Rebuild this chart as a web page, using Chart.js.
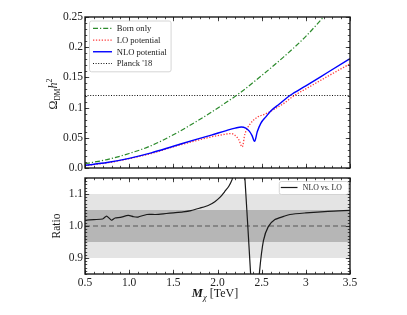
<!DOCTYPE html>
<html>
<head>
<meta charset="utf-8">
<script src="https://cdn.jsdelivr.net/npm/chart.js@4.4.1/dist/chart.umd.min.js"></script>
<style>
  html, body { margin: 0; padding: 0; background: #fff; }
  #wrap { position: relative; width: 407px; height: 315px; }
  #wrap canvas { position: absolute; left: 0; }
  #topChart { top: 0; }
  #ratioChart { top: 175px; }
</style>
</head>
<body>
<div id="wrap">
  <canvas id="topChart" width="407" height="175"></canvas>
  <canvas id="ratioChart" width="407" height="140"></canvas>
</div>
<script>
'use strict';

// relic density
const massBorn = [0.5, 0.75, 1.0, 1.25, 1.5, 1.75, 2.0, 2.25, 2.5, 2.75, 3.0, 3.25, 3.5];
const omegaBorn = [0.007, 0.014, 0.024, 0.037, 0.055, 0.076, 0.099, 0.124, 0.153, 0.184, 0.218, 0.258, 0.296];

const massLo = [0.5, 0.75, 1.0, 1.25, 1.5, 1.75, 1.93, 2.05, 2.15, 2.2, 2.24, 2.28, 2.31, 2.37, 2.45, 2.55, 2.65, 2.75, 2.87, 3.0, 3.25, 3.5];
const omegaLo = [0.004, 0.0085, 0.0155, 0.024, 0.035, 0.045, 0.0515, 0.055, 0.057, 0.054, 0.047, 0.035, 0.056, 0.073, 0.084, 0.09, 0.098, 0.107, 0.12, 0.131, 0.152, 0.1725];

const massNlo = [0.5, 0.75, 1.0, 1.25, 1.5, 1.75, 1.93, 2.1, 2.2, 2.27, 2.32, 2.36, 2.39, 2.42, 2.45, 2.49, 2.55, 2.6, 2.7, 2.82, 3.0, 3.25, 3.5];
const omegaNlo = [0.0045, 0.009, 0.016, 0.025, 0.036, 0.047, 0.0545, 0.062, 0.066, 0.068, 0.066, 0.061, 0.054, 0.044, 0.06, 0.074, 0.085, 0.094, 0.106, 0.12, 0.136, 0.1585, 0.181];

const planckOmega = 0.12;

// NLO / LO ratio
const massRatio = [0.5, 0.6, 0.7, 0.745, 0.8, 0.84, 0.9, 0.99, 1.05, 1.1, 1.2, 1.3, 1.42, 1.5, 1.61, 1.7, 1.8, 1.9, 1.97, 2.03, 2.08, 2.13, 2.17, 2.22, 2.27, 2.29, 2.31, 2.375, 2.4, 2.43, 2.46, 2.475, 2.52, 2.575, 2.65, 2.75, 2.82, 3.0, 3.25, 3.5];
const ratioNloLo = [1.018, 1.02, 1.022, 1.031, 1.018, 1.025, 1.027, 1.033, 1.029, 1.028, 1.036, 1.036, 1.039, 1.041, 1.044, 1.048, 1.056, 1.065, 1.076, 1.09, 1.107, 1.125, 1.15, 1.3, 1.8, 1.24, 1.15, 0.85, 0.7, 0.6, 0.78, 0.855, 0.954, 0.998, 1.02, 1.03, 1.036, 1.041, 1.046, 1.049];

const outerBand = [0.9, 1.1];
const innerBand = [0.95, 1.05];

const massTicks = [0.5, 1.0, 1.5, 2.0, 2.5, 3.0, 3.5];
const massTickLabels = ['0.5', '1.0', '1.5', '2.0', '2.5', '3', '3.5'];
const omegaTicks = [0, 0.05, 0.1, 0.15, 0.2, 0.25];
const omegaTickLabels = ['0.0', '0.05', '0.1', '0.15', '0.2', '0.25'];
const ratioTicks = [0.9, 1.0, 1.1];
const ratioTickLabels = ['0.9', '1.0', '1.1'];

const SERIF = "'Liberation Serif', 'DejaVu Serif', serif";

function pts(xs, ys) {
  return xs.map((x, i) => ({ x: x, y: ys[i] }));
}

function minorList(lo, hi, step) {
  const out = [];
  for (let v = lo; v <= hi + 1e-9; v += step) out.push(Math.round(v * 1000) / 1000);
  return out;
}

// matplotlib style ticks pointing inwards on all four sides + frame
const innerTicks = {
  id: 'innerTicks',
  afterDraw(chart, args, opts) {
    const { ctx, chartArea: a, scales } = chart;
    ctx.save();
    ctx.strokeStyle = '#1a1a1a';
    ctx.lineWidth = 0.8;
    const drawX = (vals, len) => {
      vals.forEach(v => {
        const px = Math.round(scales.x.getPixelForValue(v)) + 0.5;
        ctx.beginPath();
        ctx.moveTo(px, a.bottom); ctx.lineTo(px, a.bottom - len);
        ctx.moveTo(px, a.top); ctx.lineTo(px, a.top + len);
        ctx.stroke();
      });
    };
    const drawY = (vals, len) => {
      vals.forEach(v => {
        const py = Math.round(scales.y.getPixelForValue(v)) + 0.5;
        ctx.beginPath();
        ctx.moveTo(a.left, py); ctx.lineTo(a.left + len, py);
        ctx.moveTo(a.right, py); ctx.lineTo(a.right - len, py);
        ctx.stroke();
      });
    };
    drawX(opts.xMinor, 2.2);
    drawY(opts.yMinor, 2.2);
    drawX(opts.xMajor, 4.2);
    drawY(opts.yMajor, 4.2);
    ctx.lineWidth = 1.4;
    ctx.strokeRect(a.left, a.top, a.right - a.left, a.bottom - a.top);
    ctx.restore();
  }
};

// legend box inside the plot
const boxLegend = {
  id: 'boxLegend',
  afterDraw(chart, args, opts) {
    const ctx = chart.ctx;
    const items = chart.data.datasets.filter(d => d.label);
    items.sort((p, q) => opts.order.indexOf(p.label) - opts.order.indexOf(q.label));
    ctx.save();
    ctx.font = opts.font;
    let tw = 0;
    items.forEach(d => { tw = Math.max(tw, ctx.measureText(d.label).width); });
    const w = opts.padL + opts.sample + opts.gap + tw + opts.padR;
    const h = items.length * opts.rowH + 2 * opts.padV;
    const x = opts.right ? opts.right - w : opts.x;
    const y = opts.y;
    ctx.fillStyle = 'rgba(255,255,255,0.85)';
    ctx.strokeStyle = '#cccccc';
    ctx.lineWidth = 0.8;
    ctx.beginPath();
    ctx.roundRect(x + 0.5, y + 0.5, w, h, 2);
    ctx.fill();
    ctx.stroke();
    items.forEach((d, i) => {
      const cy = y + opts.padV + opts.rowH * (i + 0.5);
      ctx.strokeStyle = d.borderColor;
      ctx.lineWidth = d.borderWidth;
      ctx.setLineDash(d.borderDash || []);
      ctx.beginPath();
      ctx.moveTo(x + opts.padL, cy);
      ctx.lineTo(x + opts.padL + opts.sample, cy);
      ctx.stroke();
      ctx.setLineDash([]);
      ctx.fillStyle = '#1a1a1a';
      ctx.textBaseline = 'middle';
      ctx.fillText(d.label, x + opts.padL + opts.sample + opts.gap, cy + 0.5);
    });
    ctx.restore();
  }
};

// axis titles with sub/superscripts
function richText(ctx, parts, cx, cy, rotate) {
  ctx.save();
  ctx.translate(cx, cy);
  if (rotate) ctx.rotate(-Math.PI / 2);
  let total = 0;
  parts.forEach(p => { ctx.font = p.font; total += ctx.measureText(p.t).width; });
  let x = -total / 2;
  ctx.fillStyle = '#1a1a1a';
  ctx.textBaseline = 'alphabetic';
  parts.forEach(p => {
    ctx.font = p.font;
    ctx.fillText(p.t, x, p.dy || 0);
    x += ctx.measureText(p.t).width;
  });
  ctx.restore();
}

const axisTitles = {
  id: 'axisTitles',
  afterDraw(chart, args, opts) {
    const ctx = chart.ctx;
    if (opts.which === 'top') {
      richText(ctx, [
        { t: 'Ω', font: '12px ' + SERIF },
        { t: 'DM', font: '7.5px ' + SERIF, dy: 3 },
        { t: 'h', font: 'italic 12px ' + SERIF },
        { t: '2', font: '8px ' + SERIF, dy: -5 }
      ], 57, 94, true);
    } else {
      richText(ctx, [{ t: 'Ratio', font: '11.5px ' + SERIF }], 60, 51, true);
      richText(ctx, [
        { t: 'M', font: 'bold italic 12.5px ' + SERIF },
        { t: 'χ', font: 'italic 8.5px ' + SERIF, dy: 3 },
        { t: ' [TeV]', font: '12px ' + SERIF }
      ], 215, 122, false);
    }
  }
};

Chart.register(innerTicks, boxLegend, axisTitles);

function fixedTicks(values) {
  return scale => { scale.ticks = values.map(v => ({ value: v })); };
}

// fixed axis size, and no extra room asked for the end labels
function fixWidth(w) {
  return s => { s.width = w; s.paddingTop = 0; s.paddingBottom = 0; };
}

const tickFont = { family: SERIF, size: 11.5 };

// upper panel: relic abundance
new Chart(document.getElementById('topChart'), {
  type: 'line',
  data: {
    datasets: [
      {
        label: 'Born only', data: pts(massBorn, omegaBorn), order: 2,
        borderColor: '#2b8a2b', borderWidth: 1.2, borderDash: [5, 2, 1.2, 2],
        pointRadius: 0, cubicInterpolationMode: 'monotone', fill: false
      },
      {
        label: 'LO potential', data: pts(massLo, omegaLo), order: 1,
        borderColor: '#ff3b3b', borderWidth: 1.3, borderDash: [1.3, 1.6],
        pointRadius: 0, cubicInterpolationMode: 'monotone', fill: false
      },
      {
        label: 'NLO potential', data: pts(massNlo, omegaNlo), order: 0,
        borderColor: '#0000ff', borderWidth: 1.4,
        pointRadius: 0, cubicInterpolationMode: 'monotone', fill: false
      },
      {
        label: "Planck '18", data: pts([0.5, 3.5], [planckOmega, planckOmega]), order: 3,
        borderColor: '#111111', borderWidth: 1.1, borderDash: [1, 1.6],
        pointRadius: 0, fill: false
      }
    ]
  },
  options: {
    responsive: false,
    animation: false,
    events: [],
    layout: { padding: { top: 17, right: 57, bottom: 7, left: 0 } },
    scales: {
      x: { type: 'linear', min: 0.5, max: 3.5, display: false },
      y: {
        type: 'linear', min: 0, max: 0.25,
        grid: { display: false, drawTicks: false },
        border: { display: false },
        afterBuildTicks: fixedTicks(omegaTicks),
        afterFit: fixWidth(85),
        ticks: {
          padding: 2, color: '#222', font: tickFont,
          callback: (v, i) => omegaTickLabels[i]
        }
      }
    },
    plugins: {
      legend: { display: false },
      tooltip: { enabled: false },
      innerTicks: {
        xMajor: massTicks, xMinor: minorList(0.5, 3.5, 0.1),
        yMajor: omegaTicks, yMinor: minorList(0, 0.25, 0.01)
      },
      boxLegend: {
        order: ['Born only', 'LO potential', 'NLO potential', "Planck '18"],
        font: '8.6px ' + SERIF, x: 89, y: 20.5,
        rowH: 11.7, padV: 2, padL: 4, sample: 19, gap: 4.7, padR: 4
      },
      axisTitles: { which: 'top' }
    }
  }
});

// lower panel: NLO / LO ratio
new Chart(document.getElementById('ratioChart'), {
  type: 'line',
  data: {
    datasets: [
      {
        label: 'NLO vs. LO', data: pts(massRatio, ratioNloLo),
        borderColor: '#1a1a1a', borderWidth: 1.2,
        pointRadius: 0, tension: 0.25, fill: false
      },
      {
        data: pts([0.5, 3.5], [1, 1]),
        borderColor: '#777777', borderWidth: 1.3, borderDash: [5, 3],
        pointRadius: 0, fill: false
      },
      {
        data: pts([0.5, 3.5], [innerBand[1], innerBand[1]]),
        borderWidth: 0, pointRadius: 0, backgroundColor: '#b6b6b6', fill: '+1'
      },
      {
        data: pts([0.5, 3.5], [innerBand[0], innerBand[0]]),
        borderWidth: 0, pointRadius: 0, fill: false
      },
      {
        data: pts([0.5, 3.5], [outerBand[1], outerBand[1]]),
        borderWidth: 0, pointRadius: 0, backgroundColor: '#e4e4e4', fill: '+1'
      },
      {
        data: pts([0.5, 3.5], [outerBand[0], outerBand[0]]),
        borderWidth: 0, pointRadius: 0, fill: false
      }
    ]
  },
  options: {
    responsive: false,
    animation: false,
    events: [],
    layout: { padding: { top: 3, right: 57, bottom: 0, left: 0 } },
    scales: {
      x: {
        type: 'linear', min: 0.5, max: 3.5,
        grid: { display: false, drawTicks: false },
        border: { display: false },
        afterBuildTicks: fixedTicks(massTicks),
        afterFit: s => { s.height = 41; },
        ticks: {
          padding: 2, color: '#222', font: tickFont, maxRotation: 0,
          callback: (v, i) => massTickLabels[i]
        }
      },
      y: {
        type: 'linear', min: 0.85, max: 1.15,
        grid: { display: false, drawTicks: false },
        border: { display: false },
        afterBuildTicks: fixedTicks(ratioTicks),
        afterFit: fixWidth(85),
        ticks: {
          padding: 2, color: '#222', font: tickFont,
          callback: (v, i) => ratioTickLabels[i]
        }
      }
    },
    plugins: {
      legend: { display: false },
      tooltip: { enabled: false },
      filler: { propagate: false },
      innerTicks: {
        xMajor: massTicks, xMinor: minorList(0.5, 3.5, 0.1),
        yMajor: ratioTicks, yMinor: minorList(0.85, 1.15, 0.01)
      },
      boxLegend: {
        order: ['NLO vs. LO'],
        font: '7.8px ' + SERIF, right: 348, y: 6,
        rowH: 13, padV: 0, padL: 2, sample: 16.7, gap: 5.3, padR: 6
      },
      axisTitles: { which: 'bottom' }
    }
  }
});
</script>
</body>
</html>
